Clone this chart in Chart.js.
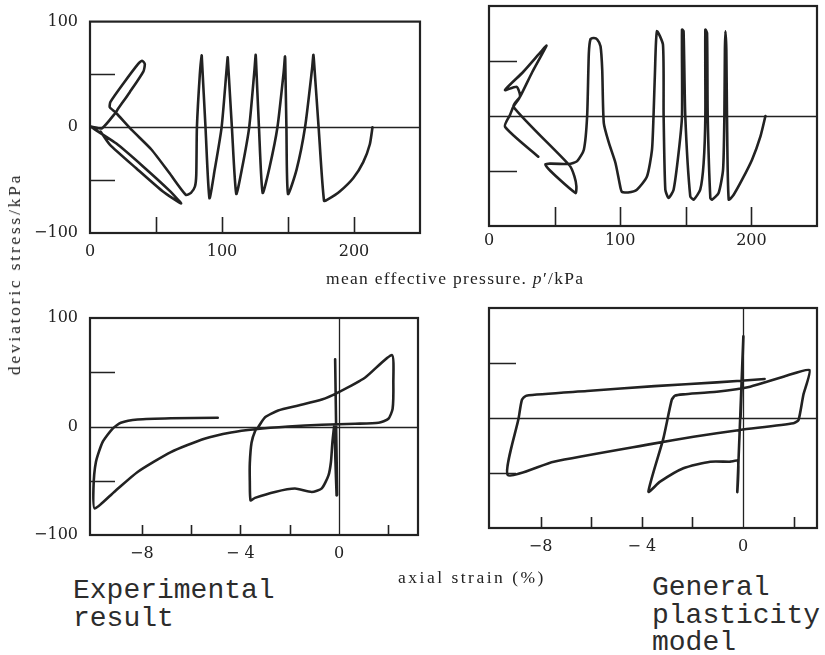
<!DOCTYPE html>
<html><head><meta charset="utf-8">
<script src="https://cdn.jsdelivr.net/npm/chart.js@4/dist/chart.umd.min.js"></script>
<style>
body{margin:0;width:825px;height:655px;background:#fff;position:relative;overflow:hidden;color:#222}
.c{position:absolute}
.t{position:absolute;white-space:nowrap;font-family:"Liberation Serif",serif;font-size:17.5px;line-height:18px;color:#222}
.mono{position:absolute;white-space:pre;font-family:"Liberation Mono",monospace;font-size:28px;line-height:27.5px;color:#2c2c2c}
</style></head><body>
<canvas id="c1" class="c" width="430" height="270" style="left:0;top:0"></canvas>
<canvas id="c2" class="c" width="405" height="262" style="left:420px;top:0"></canvas>
<canvas id="c3" class="c" width="430" height="280" style="left:0;top:290px"></canvas>
<canvas id="c4" class="c" width="405" height="280" style="left:420px;top:290px"></canvas>
<div id="ty" class="t" style="left:14px;top:274px;transform:translate(-50%,-50%) rotate(-90deg)">deviatoric stress/kPa</div>
<div id="tp" class="t" style="left:326px;top:269px">mean effective pressure. <i>p</i>′/kPa</div>
<div id="te" class="t" style="left:398px;top:568px">axial strain (%)</div>
<div class="mono" style="left:73px;top:577px">Experimental
result</div>
<div class="mono" style="left:652px;top:574px">General
plasticity
model</div>
<script>
// ---- data: panel 1 (experimental stress path) ----
const p1 = [214,212,207,199.5,189.4,180.5,177.3,173.2,169.6,169.2,168.2,162.9,156.5,150,148.8,147.9,147.7,146.7,142,136,130.8,128,125.7,125.5,124.5,120.6,115,110.8,107.5,104.5,104.3,103.3,99.7,94.5,90.5,87.5,84.8,84.6,83.2,81,80.5,79.5,76.5,72.7,60,46.5,32,19.5,15,15.5,25,36.5,39.5,41.5,40.5,30,21,19.5,9,1,20,40,60,69,55,35,15,8];
const q1 = [0,-16,-33,-48,-60.5,-68,-69.5,0,64,68.5,55,0,-40,-63,0,64,67,52,0,-38,-62,0,65,68.5,53,0,-40,-63,0,63,66.3,52,0,-40,-67,0,64,68,50,0,-45,-56,-62,-64,-43,-21,-3,14,19,24,41,60,63,60,53,33,17,14,-1,0.5,-15.4,-36.8,-59.7,-72,-60.5,-38.8,-16.4,-4];
// ---- panel 2 (model stress path) ----
const p2 = [210.7,206.9,200.5,192.9,186.5,182.7,181.4,180.9,180.2,179.8,179.4,178.4,175,170,168.7,166.7,166.2,164.9,164.9,163.6,161,156,153.4,149.6,148.3,147.1,147.1,144.5,140.7,136.9,134.4,133.1,132.6,128,126.5,125.4,124.2,120.4,112.7,106,101.3,100,96.4,91.4,87.5,86.3,85,82.5,79.9,77.4,76.1,74.8,72.3,67.2,60.8,43,65.9,66.6,65.1,61.5,18.6,23.7,33,43.8,40,26,12.2,21.1,23.7,18.6,16,12.2,37.6];
const q2 = [0,-18.5,-39.7,-57.9,-71.5,-76,0,60,77,60,0,-48.8,-70,-76,-74.5,0,75.5,78.5,0,-42.7,-67,-76,-73,0,77,78.5,0,-33.6,-67,-74.5,-67,0,64.8,77,40,0,-31,-55,-67,-69.5,-69,-64,-42.7,-24.5,-6.4,42,63.4,69.5,70.9,70,57,0,-30.6,-41,-43.6,-44.2,-70,-63.9,-54.8,-45,8.5,17.5,40,63.9,59,40,23.6,26.5,18,8.5,1,-9.7,-37];
// ---- panel 3 (experimental stress-strain) ----
const e3 = [-0.12,-0.16,-0.12,-0.08,-0.1,-0.15,-0.19,-0.27,-0.33,-0.43,-0.7,-1.11,-1.79,-2.6,-3.41,-3.59,-3.62,-3.62,-3.55,-3.4,-3.28,-3,-2.47,-1.65,-0.7,-0.03,1.06,2.14,2.2,2.17,2.0,1.6,0.65,-0.7,-2.06,-3.4,-4.38,-5.46,-6.82,-8.17,-9.12,-9.91,-9.96,-9.86,-9.59,-9.19,-8.85,-8.17,-6.82,-4.92];
const s3 = [0,62,0,-63,-63.5,-30,0.9,-14.4,-32.7,-45,-57,-60.3,-57.2,-60.3,-65.8,-68,-50,-34,-15,-4,-0.6,8.5,14.7,19.3,24.8,31.5,45.2,65.8,40.6,16.2,7.1,3.4,2.5,1.6,0,-2.5,-5.5,-11.3,-23.6,-41.9,-60.3,-75.5,-57,-32.7,-14.4,-2.1,3.4,6.4,7.6,8];
// ---- panel 4 (model stress-strain) ----
const e4 = [-0.1,0.01,-0.23,-0.2,-0.51,-1.3,-2.36,-3.28,-3.74,-3.15,-2.82,-2.69,-2.36,-1.04,0.28,1.59,2.62,2.38,2.19,1.99,-0.12,-1.96,-3.6,-7.48,-9.3,-8.87,-8.74,-8.57,-6.17,-3.5,-1.04,0.85];
const s4 = [0,74,-67,-39,-39.7,-39.7,-45.7,-57.9,-67,-18.5,16.4,20.3,21.5,23.9,28.5,37.5,43.6,20.9,-1.8,-4.8,-10.9,-17,-23.5,-39.7,-51.8,-0.3,16.4,20.3,24.5,29,32.4,35.5];
// ---- ticks ----
const pTicks = [0,100,200];
const qTicks = [-100,0,100];
const eTicks = [-8,-4,0];
const eTickLabels = ['−8','− 4','0'];
const pMinor = [50,100,150,200];
const qMinor = [-50,50];
const eMinor = [-8,-6,-4,-2,2];

const INK = '#222';
const fmt = v => v < 0 ? '−' + Math.abs(v) : String(v);

const frame = {
  id: 'frame',
  beforeDatasetsDraw(chart, args, o) {
    const {ctx, chartArea: a, scales: {x, y}} = chart;
    ctx.save();
    ctx.strokeStyle = INK;
    ctx.lineWidth = 1.3;
    ctx.beginPath();
    const y0 = Math.round(y.getPixelForValue(0)) + 0.5;
    ctx.moveTo(a.left, y0); ctx.lineTo(a.right, y0);
    if (o.vzero) { const x0 = Math.round(x.getPixelForValue(0)) + 0.5; ctx.moveTo(x0, a.top); ctx.lineTo(x0, a.bottom); }
    ctx.stroke();
    ctx.lineWidth = 1.6;
    ctx.beginPath();
    o.yt.forEach(v => { const py = Math.round(y.getPixelForValue(v)) + 0.5; ctx.moveTo(a.left, py); ctx.lineTo(a.left + o.ylen, py); });
    o.xt.forEach(v => { const px = Math.round(x.getPixelForValue(v)) + 0.5; ctx.moveTo(px, a.bottom); ctx.lineTo(px, a.bottom - o.xlen); });
    ctx.stroke();
    ctx.restore();
  },
  afterDatasetsDraw(chart) {
    const {ctx, chartArea: a} = chart;
    ctx.save();
    ctx.strokeStyle = INK; ctx.lineWidth = 2.2;
    ctx.strokeRect(a.left, a.top, a.right - a.left, a.bottom - a.top);
    ctx.restore();
  }
};

function make(id, xs, ys, cfg) {
  const data = xs.map((v, i) => ({x: v, y: ys[i]}));
  return new Chart(document.getElementById(id), {
    type: 'scatter',
    data: {datasets: [{data, showLine: true, pointRadius: 0, borderColor: INK, borderWidth: 2.6, tension: 0.2, borderJoinStyle: 'round', borderCapStyle: 'round'}]},
    options: {
      responsive: false, animation: false, devicePixelRatio: 1,
      layout: {padding: {left: 0, right: cfg.right, top: cfg.top, bottom: 0}},
      plugins: {legend: {display: false}, tooltip: {enabled: false}, frame: cfg.frame},
      scales: {
        x: {type: 'linear', min: cfg.xmin, max: cfg.xmax,
          grid: {display: false, drawTicks: false}, border: {display: false},
          ticks: {font: {family: 'DejaVu Serif', size: 16}, color: INK, padding: cfg.xpad, maxRotation: 0,
            callback: cfg.xlab},
          afterBuildTicks: s => { s.ticks = cfg.xticks.map(v => ({value: v})); },
          afterFit: s => { s.height = cfg.xh; }},
        y: {type: 'linear', min: -100, max: 100,
          grid: {display: false, drawTicks: false}, border: {display: false},
          ticks: {display: cfg.ylabels, font: {family: 'DejaVu Serif', size: 16}, color: INK, padding: 12, callback: v => fmt(v)},
          afterBuildTicks: s => { s.ticks = qTicks.map(v => ({value: v})); },
          afterFit: s => { s.width = cfg.yw; }}
      }
    },
    plugins: [frame]
  });
}

make('c1', p1, q1, {right: 10, top: 15, xh: 37, yw: 90, xmin: 0, xmax: 250, xpad: 9, xticks: pTicks, xlab: v => fmt(v), ylabels: true,
  frame: {yt: qMinor, xt: pMinor, ylen: 25, xlen: 16, vzero: false}});
make('c2', p2, q2, {right: 8, top: 6, xh: 36, yw: 69, xmin: 0, xmax: 250, xpad: 5, xticks: pTicks, xlab: v => fmt(v), ylabels: false,
  frame: {yt: qMinor, xt: pMinor, ylen: 28, xlen: 19, vzero: false}});
make('c3', e3, s3, {right: 12, top: 28, xh: 35, yw: 90, xmin: -10.1, xmax: 3.2, xpad: 9, xticks: eTicks, xlab: (v, i) => eTickLabels[i], ylabels: true,
  frame: {yt: qMinor, xt: eMinor, ylen: 25, xlen: 10, vzero: true}});
make('c4', e4, s4, {right: 8, top: 18, xh: 42, yw: 69, xmin: -10.04, xmax: 2.92, xpad: 9, xticks: eTicks, xlab: (v, i) => eTickLabels[i], ylabels: false,
  frame: {yt: qMinor, xt: eMinor, ylen: 27, xlen: 11, vzero: true}});

function fit(id, w) {
  const el = document.getElementById(id);
  const n = el.textContent.length;
  el.style.letterSpacing = '0px';
  const cur = el.offsetWidth;
  el.style.letterSpacing = ((w - cur) / n) + 'px';
}
fit('ty', 202); fit('tp', 258); fit('te', 148);
</script>
</body></html>
